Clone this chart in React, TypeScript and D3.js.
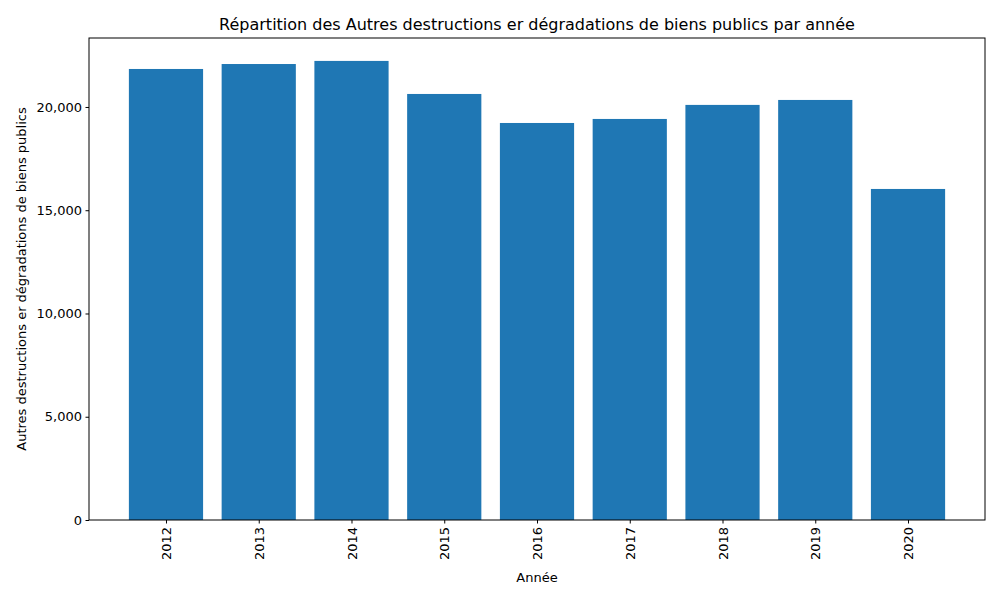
import React, { useEffect, useRef } from "react";
import * as d3 from "d3";

const years = ["2012", "2013", "2014", "2015", "2016", "2017", "2018", "2019", "2020"];
const counts = [21840, 22080, 22230, 20630, 19225, 19420, 20100, 20340, 16030];
const yTicks = [0, 5000, 10000, 15000, 20000];

const App = () => {
  const ref = useRef<SVGSVGElement>(null);

  useEffect(() => {
    const svg = d3.select(ref.current);
    svg.selectAll("*").remove();
    const margin = { top: 38, right: 15, bottom: 80, left: 89 };
    const w = 1000 - margin.left - margin.right;
    const h = 600 - margin.top - margin.bottom;
    const font = "DejaVu Sans, sans-serif";

    const x = d3.scaleLinear().domain([-0.83, years.length - 1 + 0.83]).range([0, w]);
    const y = d3.scaleLinear().domain([0, 23340]).range([h, 0]);
    const bw = x(0.8) - x(0);

    const g = svg.append("g").attr("transform", `translate(${margin.left},${margin.top})`);

    g.selectAll("rect")
      .data(counts)
      .enter()
      .append("rect")
      .attr("x", (d, i) => x(i) - bw / 2)
      .attr("width", bw)
      .attr("y", (d) => y(d))
      .attr("height", (d) => h - y(d))
      .attr("fill", "#1f77b4");

    const xAxis = g
      .append("g")
      .attr("transform", `translate(0,${h})`)
      .call(
        d3
          .axisBottom(x)
          .tickValues(years.map((_, i) => i))
          .tickFormat((d) => years[d as number])
          .tickSize(3.5)
          .tickPadding(3.5)
      );
    xAxis
      .selectAll("text")
      .attr("transform", "rotate(-90)")
      .attr("text-anchor", "end")
      .attr("x", -7)
      .attr("y", 0)
      .attr("dy", "0.35em");

    const yAxis = g.append("g").call(d3.axisLeft(y).tickValues(yTicks).tickSize(3.5).tickPadding(3.5));

    [xAxis, yAxis].forEach((a) => {
      a.select(".domain").remove();
      a.selectAll("text").attr("font-family", font).attr("font-size", 13).attr("fill", "#000");
      a.selectAll("line").attr("stroke", "#000");
    });

    g.append("rect")
      .attr("width", w)
      .attr("height", h)
      .attr("fill", "none")
      .attr("stroke", "#000")
      .attr("stroke-width", 1);

    svg
      .append("text")
      .attr("x", margin.left + w / 2)
      .attr("y", 30)
      .attr("text-anchor", "middle")
      .attr("font-family", font)
      .attr("font-size", 16)
      .text("Répartition des Autres destructions er dégradations de biens publics par année");

    svg
      .append("text")
      .attr("x", margin.left + w / 2)
      .attr("y", 582)
      .attr("text-anchor", "middle")
      .attr("font-family", font)
      .attr("font-size", 13)
      .text("Année");

    svg
      .append("text")
      .attr("transform", `translate(26,${margin.top + h / 2}) rotate(-90)`)
      .attr("text-anchor", "middle")
      .attr("font-family", font)
      .attr("font-size", 13)
      .text("Autres destructions er dégradations de biens publics");
  }, []);

  return (
    <svg
      ref={ref}
      width={1000}
      height={600}
      style={{ position: "absolute", left: 0, top: 0, background: "#fff" }}
    />
  );
};

export default App;
